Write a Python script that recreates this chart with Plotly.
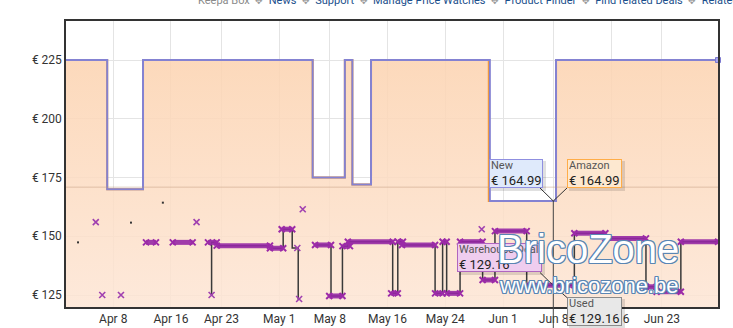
import plotly.graph_objects as go

# ---------------- data ----------------
amazon_time = ["2019-04-01 11:00", "2019-04-07 04:00", "2019-04-12 03:00", "2019-05-05 15:00",
               "2019-05-10 02:00", "2019-05-11 03:00", "2019-05-13 17:00", "2019-05-30 00:30",
               "2019-06-08 08:00", "2019-06-30 18:30"]
amazon_price = [224.99, 169.99, 224.99, 174.99, 224.99, 171.99, 224.99, 164.99, 224.99, 224.99]

new_time = ["2019-04-01 11:00", "2019-04-07 04:00", "2019-04-12 03:00", "2019-05-05 15:00",
            "2019-05-10 02:00", "2019-05-11 03:00", "2019-05-13 17:00", "2019-05-30 04:00",
            "2019-06-08 08:00", "2019-06-30 18:30"]
new_price = [224.99, 169.99, 224.99, 174.99, 224.99, 171.99, 224.99, 164.99, 224.99, 224.99]

# warehouse deals: runs of constant price
wh_start = ["2019-04-12 13:00", "2019-04-16 06:00", "2019-04-21 03:00", "2019-04-22 08:00",
            "2019-04-29 17:00", "2019-05-01 08:00", "2019-05-05 23:00", "2019-05-07 22:00",
            "2019-05-09 18:00", "2019-05-10 12:00", "2019-05-16 12:00", "2019-05-17 10:00",
            "2019-05-18 00:00", "2019-05-22 14:00", "2019-05-23 15:00", "2019-05-24 04:30",
            "2019-05-26 01:00", "2019-05-29 04:00", "2019-05-30 21:00", "2019-06-04 06:30",
            "2019-06-10 21:00", "2019-06-15 04:00", "2019-06-20 19:00", "2019-06-22 06:30",
            "2019-06-25 15:00"]
wh_end = ["2019-04-13 22:00", "2019-04-19 00:00", "2019-04-22 08:00", "2019-04-29 17:00",
          "2019-05-01 13:00", "2019-05-02 19:00", "2019-05-08 04:00", "2019-05-09 18:00",
          "2019-05-10 19:00", "2019-05-16 17:00", "2019-05-17 10:00", "2019-05-18 03:00",
          "2019-05-22 14:00", "2019-05-23 15:00", "2019-05-24 04:30", "2019-05-26 01:00",
          "2019-05-29 04:00", "2019-05-30 21:00", "2019-06-04 06:30", "2019-06-10 21:00",
          "2019-06-15 04:00", "2019-06-20 19:00", "2019-06-22 06:30", "2019-06-25 15:00",
          "2019-06-30 18:30"]
wh_price = [147.4, 147.4, 147.4, 146.0, 144.9, 153.0, 146.3, 124.6, 145.8, 147.7, 125.7, 147.7,
            146.3, 125.7, 147.7, 125.7, 147.7, 131.4, 152.2, 129.16, 151.3, 149.1, 128.5, 126.4,
            147.7]

wh_single_time = ["2019-04-05 14:00", "2019-04-06 11:30", "2019-04-09 01:40", "2019-04-19 13:00",
                  "2019-04-21 15:00", "2019-05-03 12:00", "2019-05-03 18:00", "2019-05-04 06:00",
                  "2019-05-29 01:00"]
wh_single_price = [156.0, 125.0, 125.0, 156.0, 125.0, 145.0, 123.3, 161.5, 153.0]

used_time = ["2019-04-21 13:00", "2019-04-21 15:00", "2019-04-22 08:00", "2019-04-29 17:00",
             "2019-05-01 13:00", "2019-05-02 19:00", "2019-05-03 15:00", "2019-05-03 20:00", None,
             "2019-05-05 23:00", "2019-05-08 04:00", "2019-05-09 18:00", "2019-05-10 12:00",
             "2019-05-16 17:00", "2019-05-17 10:00", "2019-05-18 03:00", "2019-05-22 14:00",
             "2019-05-23 15:00", "2019-05-24 04:30", "2019-05-26 01:00", "2019-05-29 04:00",
             "2019-05-30 21:00", "2019-06-04 06:30", "2019-06-10 21:00", "2019-06-15 04:00",
             "2019-06-20 19:00", "2019-06-22 06:30", "2019-06-25 15:00", "2019-06-30 18:30"]
used_price = [125.0, 147.4, 146.0, 144.9, 153.0, 145.0, 123.3, 123.3, None,
              146.3, 124.6, 145.8, 147.7, 125.7, 147.7, 146.3, 125.7, 147.7, 125.7, 147.7, 131.4,
              152.2, 129.16, 151.3, 149.1, 128.5, 126.4, 147.7, 147.7]

used_dot_time = ["2019-04-03 03:00", "2019-04-10 11:00", "2019-04-14 21:00"]
used_dot_price = [147.4, 155.8, 164.3]

reference_line_price = 170.9

hover_time = "2019-06-07 23:00"
hover_new = 164.99
hover_used = 129.16

x_tick_vals = ["2019-04-08", "2019-04-16", "2019-04-23", "2019-05-01", "2019-05-08", "2019-05-16",
               "2019-05-24", "2019-06-01", "2019-06-08", "2019-06-16", "2019-06-23"]
x_tick_text = ["Apr 8", "Apr 16", "Apr 23", "May 1", "May 8", "May 16", "May 24", "Jun 1",
               "Jun 8", "Jun 16", "Jun 23"]
y_tick_vals = [125, 150, 175, 200, 225]
y_tick_text = ["€ 125", "€ 150", "€ 175", "€ 200", "€ 225"]

x_range = ["2019-04-01 11:00", "2019-06-30 18:30"]
y_range = [119.9, 241.6]

# ---------------- layout geometry ----------------
W, H = 733, 328
ML, MR, MT, MB = 66, 15, 21, 21
PW, PH = W - ML - MR, H - MT - MB


def pxx(px):
    return (px - ML) / PW


def pxy(py):
    return (H - MB - py) / PH


FONT = "Roboto"

fig = go.Figure()

# Amazon price with gradient fill
fig.add_trace(go.Scatter(
    x=amazon_time, y=amazon_price, mode="lines", line=dict(color="#ff9d2a", width=2, shape="hv"),
    fill="tozeroy",
    fillgradient=dict(type="vertical", start=120, stop=225,
                      colorscale=[[0, "rgba(253,229,212,0.85)"], [1, "rgba(252,212,178,0.88)"]]),
    hoverinfo="skip"))

# New price line
fig.add_trace(go.Scatter(
    x=new_time, y=new_price, mode="lines", line=dict(color="#8482d2", width=2, shape="hv"),
    hoverinfo="skip"))
fig.add_trace(go.Scatter(
    x=[new_time[-1]], y=[new_price[-1]], mode="markers",
    marker=dict(symbol="square", size=5, color="#a8a6ec", line=dict(color="#7c7ad0", width=1)),
    cliponaxis=False, hoverinfo="skip"))

# Used line
fig.add_trace(go.Scatter(
    x=used_time, y=used_price, mode="lines", line=dict(color="#3a3a3a", width=1.5, shape="hv"),
    connectgaps=False, hoverinfo="skip"))
fig.add_trace(go.Scatter(
    x=used_dot_time, y=used_dot_price, mode="markers",
    marker=dict(symbol="square", size=2, color="#333"), hoverinfo="skip"))

# Warehouse deals runs
wx, wy = [], []
for s, e, p in zip(wh_start, wh_end, wh_price):
    wx += [s, e, None]
    wy += [p, p, None]
fig.add_trace(go.Scatter(
    x=wx, y=wy, mode="lines+markers", connectgaps=False,
    line=dict(color="rgba(150,40,165,0.9)", width=5),
    marker=dict(symbol="x-thin", size=6, line=dict(color="#9c2aa8", width=2)),
    hoverinfo="skip"))
fig.add_trace(go.Scatter(
    x=wh_single_time, y=wh_single_price, mode="markers",
    marker=dict(symbol="x-thin", size=6, line=dict(color="#a040b0", width=1.6)),
    hoverinfo="skip"))

shapes = []
# reference line
shapes.append(dict(type="line", xref="paper", x0=0, x1=1, yref="y", y0=reference_line_price,
                   y1=reference_line_price, line=dict(color="rgba(190,150,120,0.45)", width=1),
                   layer="above"))
# crosshair
y_cross_top = pxy(MT + (y_range[1] - hover_new) / (y_range[1] - y_range[0]) * PH)
shapes.append(dict(type="line", xref="x", x0=hover_time, x1=hover_time, yref="paper",
                   y0=-0.08, y1=y_cross_top, line=dict(color="#444", width=1), layer="above"))

# connectors (pixel positions)
for (x0, y0, x1, y1) in [(540, 188, 553.3, 201), (567, 188, 553.3, 201),
                         (540, 272.5, 553.3, 285.5), (553.3, 285.5, 567.5, 298)]:
    shapes.append(dict(type="line", xref="paper", yref="paper", x0=pxx(x0), y0=pxy(y0),
                       x1=pxx(x1), y1=pxy(y1), line=dict(color="#333", width=1), layer="above"))

boxes = [
    # left, top, width, height, label, value, bg, border
    (489, 159, 54, 29, "New", "€ 164.99", "#dfeafb", "#8f8fe0"),
    (567, 159, 55, 29, "Amazon", "€ 164.99", "#fde8d0", "#ffad48"),
    (457, 243, 85, 29, "Warehouse Deals", "€ 129.16", "#efcdef", "#b066c0"),
    (567, 297, 55, 29, "Used", "€ 129.16", "#e8e8e8", "#8a8a8a"),
]
# tooltip shadows
for (l, t, w, h, lab, val, bg, bd) in boxes:
    shapes.append(dict(type="rect", xref="paper", yref="paper", x0=pxx(l + 2), x1=pxx(l + w + 3),
                       y0=pxy(t + h + 3), y1=pxy(t + 2), line=dict(width=0),
                       fillcolor="rgba(0,0,0,0.12)", layer="above"))

annotations = []
for (l, t, w, h, lab, val, bg, bd) in boxes:
    annotations.append(dict(
        xref="paper", yref="paper", x=pxx(l), y=pxy(t), xanchor="left", yanchor="top",
        showarrow=False, align="left", valign="middle", width=w - 4, height=h - 4,
        borderpad=1, borderwidth=1, bordercolor=bd, bgcolor=bg,
        text=f"<span style='font-size:11px;color:#555'>{lab}</span><br>"
             f"<span style='font-size:13px;color:#222'>{val}</span>",
        font=dict(family=FONT, size=12, color="#222")))

# watermark
shadow = ", ".join(f"{dx}px {dy}px 0 #5a86b4" for dx, dy in
                   [(1, 1), (-1, -1), (1, -1), (-1, 1), (0, 1), (1, 0), (0, -1), (-1, 0)])
annotations.append(dict(xref="paper", yref="paper", x=pxx(588), y=pxy(249), xanchor="center",
                        yanchor="middle", showarrow=False, text="BricoZone",
                        font=dict(family="Liberation Sans", size=40, color="white", shadow=shadow)))
annotations.append(dict(xref="paper", yref="paper", x=pxx(589), y=pxy(285), xanchor="center",
                        yanchor="middle", showarrow=False, text="www.bricozone.be",
                        font=dict(family="Liberation Sans", size=22, color="white", shadow=shadow)))

# top nav text (cut off)
sep = "  <span style='color:#9a9a9a;font-size:9px'>✥</span>  "
nav = ("<span style='color:#8a8a8a'>Keepa Box</span>" + sep + "News" + sep + "Support" + sep +
       "Manage Price Watches" + sep + "Product Finder" + sep + "Find related Deals" + sep + "Related")
annotations.append(dict(xref="paper", yref="paper", x=pxx(196), y=pxy(0), xanchor="left",
                        yanchor="middle", showarrow=False, text=nav,
                        font=dict(family=FONT, size=11, color="#1b4f8c")))

fig.update_layout(
    width=W, height=H, margin=dict(l=ML, r=MR, t=MT, b=MB, pad=0, autoexpand=False),
    paper_bgcolor="white", plot_bgcolor="white", showlegend=False, hovermode=False,
    shapes=shapes, annotations=annotations,
    xaxis=dict(type="date", range=x_range, tickvals=x_tick_vals, ticktext=x_tick_text,
               showgrid=True, gridcolor="#e4e4e4", gridwidth=1, zeroline=False, automargin=False,
               showline=True, linecolor="#333", linewidth=1.5, mirror=True, ticks="",
               tickfont=dict(family=FONT, size=12, color="#333")),
    yaxis=dict(range=y_range, tickvals=y_tick_vals, ticktext=y_tick_text, automargin=False,
               showgrid=True, gridcolor="#e4e4e4", gridwidth=1, zeroline=False,
               showline=True, linecolor="#333", linewidth=1.5, mirror=True, ticks="",
               tickfont=dict(family=FONT, size=12, color="#333")),
)

fig.write_html("out.html")
